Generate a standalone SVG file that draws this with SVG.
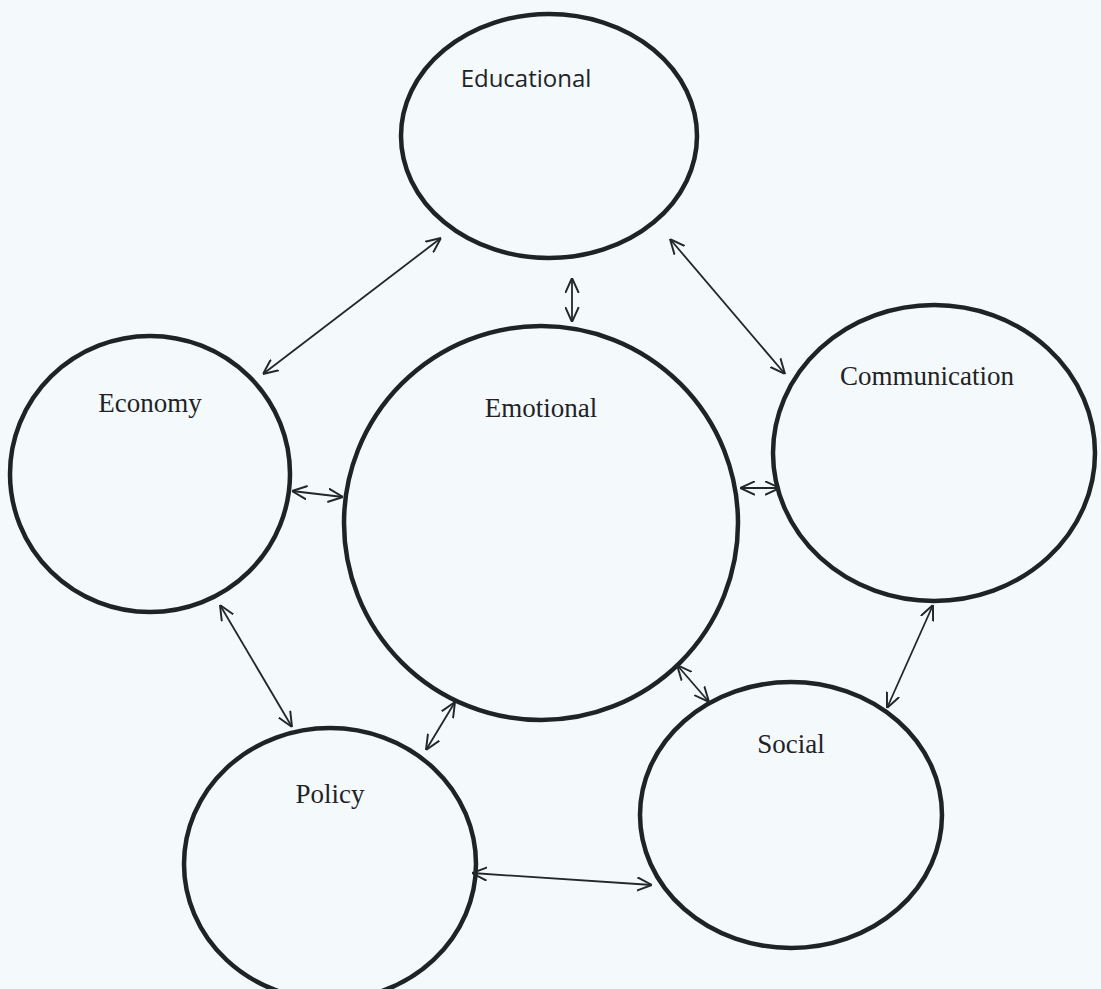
<svg xmlns="http://www.w3.org/2000/svg" width="1101" height="989" viewBox="0 0 1101 989">
<style>
.node{fill:none;stroke:#1f2326;stroke-width:4.5}
.lbl{font-family:"Liberation Serif","Times New Roman",serif;font-size:27px;fill:#1f2326}
.sans{font-family:"Open Sans","Liberation Sans",sans-serif;font-size:24px;fill:#1f2326}
.conn line{stroke:#22272a;stroke-width:1.8;fill:none;marker-start:url(#ah);marker-end:url(#ah)}
</style>
<defs>
<marker id="ah" viewBox="0 0 10 10" refX="10" refY="5" markerWidth="15" markerHeight="15" markerUnits="userSpaceOnUse" orient="auto-start-reverse">
<path d="M0,0.5 L10,5 L0,9.5" fill="none" stroke="#22272a" stroke-width="1.3"/>
</marker>
</defs>
<rect width="1101" height="989" fill="#f4f9fc"/>
<g id="educational"><ellipse class="node" cx="549" cy="136" rx="148" ry="122"/><text class="sans" x="526" y="87" text-anchor="middle">Educational</text></g>
<g id="economy"><ellipse class="node" cx="150" cy="474" rx="140" ry="138"/><text class="lbl" x="150" y="412" text-anchor="middle">Economy</text></g>
<g id="emotional"><ellipse class="node" cx="541" cy="523" rx="197" ry="197"/><text class="lbl" x="541" y="417" text-anchor="middle">Emotional</text></g>
<g id="communication"><ellipse class="node" cx="934" cy="453" rx="161" ry="148"/><text class="lbl" x="927" y="385" text-anchor="middle">Communication</text></g>
<g id="social"><ellipse class="node" cx="791" cy="815" rx="151" ry="133"/><text class="lbl" x="791" y="753" text-anchor="middle">Social</text></g>
<g id="policy"><ellipse class="node" cx="330" cy="864" rx="146" ry="136"/><text class="lbl" x="330" y="803" text-anchor="middle">Policy</text></g>
<g id="connectors" class="conn">
<line x1="263" y1="374" x2="441" y2="238"/>
<line x1="670" y1="239" x2="785" y2="374"/>
<line x1="572" y1="278" x2="572" y2="322"/>
<line x1="292" y1="491" x2="343" y2="497"/>
<line x1="740" y1="488" x2="780" y2="488"/>
<line x1="220" y1="605" x2="292" y2="727"/>
<line x1="455" y1="702" x2="426" y2="750"/>
<line x1="677" y1="665" x2="709" y2="702"/>
<line x1="933" y1="605" x2="887" y2="708"/>
<line x1="472" y1="873" x2="652" y2="885"/>
</g>
</svg>
